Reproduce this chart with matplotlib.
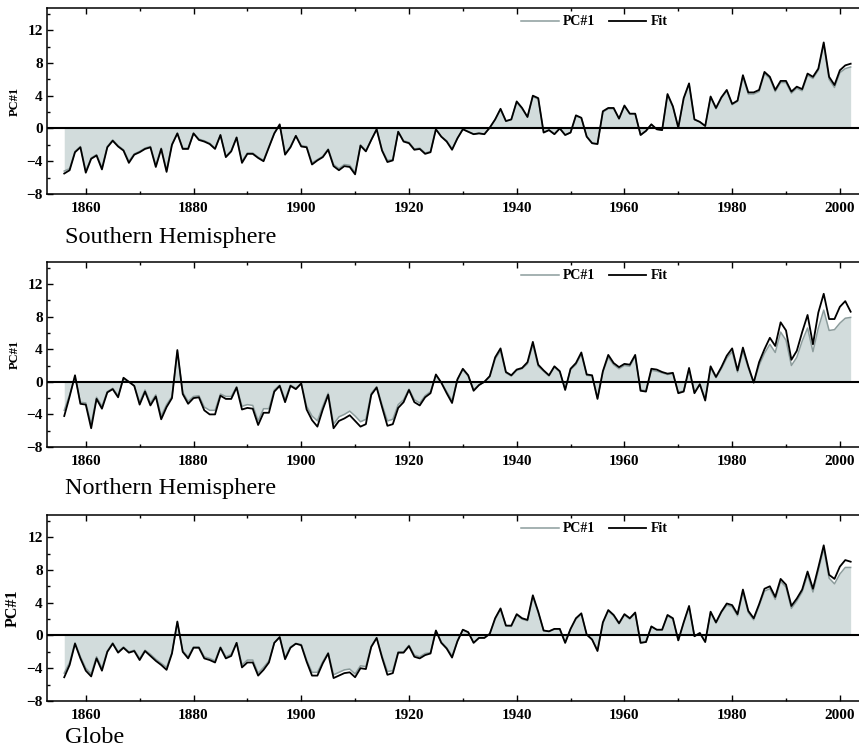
import numpy as np
import matplotlib
matplotlib.use('Agg')
import matplotlib.pyplot as plt
from matplotlib.ticker import MultipleLocator

plt.rcParams['font.family'] = ['Liberation Serif', 'DejaVu Serif']

years = np.arange(1856, 2003)

# ---------------- Southern Hemisphere ----------------
sh_fit = [
    -5.5, -5.1, -2.9, -2.3, -5.4, -3.7, -3.3, -5.0, -2.3, -1.5,   # 1856-1865
    -2.2, -2.7, -4.2, -3.2, -2.9, -2.5, -2.3, -4.7, -2.5, -5.3,   # 1866-1875
    -2.0, -0.6, -2.5, -2.5, -0.6, -1.4, -1.6, -1.9, -2.5, -0.8,   # 1876-1885
    -3.5, -2.8, -1.1, -4.2, -3.1, -3.1, -3.6, -4.0, -2.3, -0.6,   # 1886-1895
    0.5, -3.2, -2.3, -0.9, -2.2, -2.3, -4.4, -3.9, -3.5, -2.6,    # 1896-1905
    -4.6, -5.1, -4.6, -4.7, -5.6, -2.1, -2.8, -1.4, -0.1, -2.7,   # 1906-1915
    -4.1, -3.9, -0.4, -1.6, -1.8, -2.6, -2.5, -3.1, -2.9, -0.1,   # 1916-1925
    -1.0, -1.6, -2.6, -1.2, -0.1, -0.4, -0.7, -0.6, -0.7, 0.1,    # 1926-1935
    1.1, 2.4, 0.9, 1.1, 3.3, 2.5, 1.4, 4.0, 3.7, -0.5,            # 1936-1945
    -0.2, -0.7, 0.0, -0.8, -0.5, 1.6, 1.3, -1.0, -1.8, -1.9,      # 1946-1955
    2.1, 2.5, 2.5, 1.2, 2.8, 1.8, 1.8, -0.8, -0.3, 0.5,           # 1956-1965
    -0.1, -0.2, 4.2, 2.7, 0.1, 3.7, 5.5, 1.1, 0.8, 0.3,           # 1966-1975
    3.9, 2.5, 3.8, 4.7, 3.0, 3.4, 6.5, 4.4, 4.4, 4.7,             # 1976-1985
    6.9, 6.3, 4.7, 5.8, 5.8, 4.5, 5.1, 4.8, 6.7, 6.3,             # 1986-1995
    7.3, 10.5, 6.3, 5.3, 7.1, 7.7, 7.9,                            # 1996-2002
]
sh_pc = [
    -5.2, -4.9, -2.8, -2.2, -5.2, -3.6, -3.2, -4.8, -2.2, -1.4,
    -2.1, -2.6, -4.0, -3.1, -2.8, -2.4, -2.2, -4.5, -2.4, -5.1,
    -1.9, -0.6, -2.4, -2.4, -0.6, -1.3, -1.5, -1.8, -2.4, -0.8,
    -3.4, -2.7, -1.1, -4.0, -3.0, -3.0, -3.5, -3.9, -2.2, -0.6,
    0.4, -3.1, -2.2, -0.9, -2.1, -2.2, -4.2, -3.8, -3.4, -2.5,
    -4.4, -4.9, -4.4, -4.5, -5.4, -2.0, -2.7, -1.4, -0.1, -2.6,
    -3.9, -3.8, -0.4, -1.5, -1.7, -2.5, -2.4, -3.0, -2.8, -0.1,
    -1.0, -1.5, -2.5, -1.2, -0.1, -0.4, -0.7, -0.6, -0.7, 0.1,
    1.1, 2.3, 0.9, 1.1, 3.2, 2.4, 1.4, 3.9, 3.6, -0.5,
    -0.2, -0.7, 0.0, -0.8, -0.5, 1.5, 1.3, -1.0, -1.8, -1.9,
    2.0, 2.4, 2.4, 1.2, 2.7, 1.8, 1.8, -0.8, -0.3, 0.5,
    -0.1, -0.2, 4.1, 2.6, 0.1, 3.6, 5.4, 1.1, 0.8, 0.3,
    3.8, 2.4, 3.7, 4.6, 2.9, 3.3, 6.3, 4.2, 4.2, 4.5,
    6.7, 6.1, 4.5, 5.6, 5.6, 4.3, 4.9, 4.6, 6.5, 6.1,
    7.1, 10.3, 6.0, 5.0, 6.8, 7.3, 7.5,
]

# ---------------- Northern Hemisphere ----------------
nh_fit = [
    -4.2, -1.8, 0.8, -2.7, -2.8, -5.7, -2.1, -3.3, -1.3, -0.9,
    -1.9, 0.5, 0.0, -0.5, -2.8, -1.2, -2.9, -1.8, -4.6, -3.1,
    -2.0, 3.9, -1.5, -2.7, -2.0, -1.9, -3.5, -4.0, -4.0, -1.7,
    -2.1, -2.1, -0.7, -3.4, -3.2, -3.3, -5.3, -3.8, -3.8, -1.2,
    -0.5, -2.5, -0.5, -0.9, -0.2, -3.4, -4.7, -5.5, -3.4, -1.6,
    -5.7, -4.8, -4.5, -4.1, -4.8, -5.5, -5.2, -1.6, -0.7, -3.1,
    -5.4, -5.2, -3.2, -2.5, -1.0, -2.5, -2.9, -1.9, -1.4, 0.9,
    -0.1, -1.4, -2.6, 0.3, 1.6, 0.8, -1.1, -0.4, 0.0, 0.7,
    3.0, 4.1, 1.2, 0.8, 1.5, 1.7, 2.4, 4.9, 2.1, 1.4,
    0.8, 1.9, 1.3, -1.0, 1.6, 2.3, 3.6, 0.9, 0.8, -2.1,
    1.3, 3.3, 2.3, 1.8, 2.2, 2.1, 3.3, -1.1, -1.2, 1.6,
    1.5, 1.2, 1.0, 1.1, -1.4, -1.2, 1.7, -1.4, -0.3, -2.3,
    1.9, 0.6, 1.8, 3.2, 4.1, 1.4, 4.2, 1.9, -0.1, 2.4,
    4.0, 5.4, 4.4, 7.3, 6.3, 2.7, 3.8, 6.1, 8.2, 4.6,
    8.5, 10.8, 7.7, 7.7, 9.2, 9.9, 8.6,
]
nh_pc = [
    -3.5, -1.6, 0.6, -2.5, -2.6, -5.2, -1.9, -3.0, -1.2, -0.8,
    -1.7, 0.4, 0.0, -0.5, -2.5, -1.0, -2.6, -1.6, -4.2, -2.8,
    -1.8, 3.7, -1.3, -2.4, -1.8, -1.7, -3.1, -3.5, -3.5, -1.5,
    -1.8, -1.8, -0.6, -3.0, -2.8, -2.9, -4.8, -3.3, -3.3, -1.0,
    -0.4, -2.2, -0.4, -0.8, -0.2, -3.0, -4.2, -4.8, -3.0, -1.4,
    -5.2, -4.3, -4.0, -3.6, -4.2, -4.9, -4.6, -1.4, -0.6, -2.8,
    -4.8, -4.6, -2.8, -2.2, -0.9, -2.2, -2.6, -1.7, -1.2, 0.8,
    -0.1, -1.2, -2.3, 0.3, 1.5, 0.7, -1.0, -0.4, 0.0, 0.6,
    2.8, 3.8, 1.1, 0.7, 1.4, 1.6, 2.2, 4.6, 1.9, 1.3,
    0.7, 1.8, 1.2, -0.9, 1.5, 2.1, 3.4, 0.8, 0.7, -2.0,
    1.2, 3.0, 2.1, 1.6, 2.0, 1.9, 3.1, -1.0, -1.1, 1.4,
    1.3, 1.1, 0.9, 1.0, -1.3, -1.1, 1.5, -1.3, -0.3, -2.1,
    1.7, 0.5, 1.6, 2.9, 3.7, 1.2, 3.8, 1.7, -0.1, 2.0,
    3.5, 4.6, 3.6, 6.1, 5.1, 2.0, 3.0, 5.0, 6.6, 3.7,
    6.6, 8.8, 6.3, 6.4, 7.2, 7.8, 7.9,
]

# ---------------- Globe ----------------
gl_fit = [
    -5.1, -3.6, -1.0, -2.8, -4.3, -5.0, -2.8, -4.3, -2.0, -1.0,
    -2.1, -1.5, -2.1, -1.9, -3.0, -1.9, -2.5, -3.1, -3.6, -4.2,
    -2.2, 1.7, -2.0, -2.8, -1.5, -1.5, -2.8, -3.0, -3.3, -1.5,
    -2.8, -2.5, -0.9, -3.9, -3.3, -3.3, -4.9, -4.2, -3.3, -0.9,
    -0.2, -2.9, -1.5, -1.0, -1.2, -3.2, -4.9, -4.9, -3.4, -2.2,
    -5.2, -4.9, -4.6, -4.5, -5.1, -4.0, -4.1, -1.4, -0.3, -2.7,
    -4.8, -4.6, -2.1, -2.1, -1.3, -2.6, -2.8, -2.4, -2.2, 0.6,
    -0.9, -1.6, -2.7, -0.7, 0.7, 0.4, -0.9, -0.3, -0.3, 0.2,
    2.1, 3.3, 1.2, 1.2, 2.6, 2.1, 1.9, 4.9, 2.9, 0.6,
    0.5, 0.8, 0.8, -0.9, 0.8, 2.1, 2.7, 0.1, -0.5, -1.9,
    1.6, 3.1, 2.5, 1.5, 2.6, 2.1, 2.8, -0.9, -0.8, 1.1,
    0.7, 0.7, 2.5, 2.1, -0.6, 1.6, 3.6, -0.1, 0.3, -0.8,
    2.9, 1.6, 2.9, 3.9, 3.7, 2.6, 5.6, 3.0, 2.1, 3.8,
    5.7, 6.0, 4.7, 6.9, 6.2, 3.6, 4.5, 5.6, 7.8, 5.7,
    8.3, 11.0, 7.4, 6.9, 8.4, 9.2, 9.0,
]
gl_pc = [
    -4.6, -3.3, -0.9, -2.6, -4.0, -4.7, -2.6, -4.0, -1.9, -0.9,
    -2.0, -1.4, -2.0, -1.8, -2.8, -1.8, -2.3, -2.9, -3.4, -3.9,
    -2.1, 1.6, -1.9, -2.6, -1.4, -1.4, -2.6, -2.8, -3.1, -1.4,
    -2.6, -2.3, -0.9, -3.6, -3.0, -3.0, -4.6, -3.9, -3.1, -0.9,
    -0.2, -2.7, -1.4, -1.0, -1.1, -3.0, -4.5, -4.5, -3.2, -2.1,
    -4.8, -4.5, -4.2, -4.1, -4.7, -3.7, -3.8, -1.3, -0.3, -2.5,
    -4.4, -4.3, -2.0, -2.0, -1.2, -2.4, -2.6, -2.2, -2.1, 0.6,
    -0.8, -1.5, -2.5, -0.7, 0.7, 0.4, -0.9, -0.3, -0.3, 0.2,
    2.0, 3.2, 1.2, 1.1, 2.5, 2.0, 1.8, 4.7, 2.8, 0.6,
    0.5, 0.8, 0.8, -0.9, 0.8, 2.0, 2.6, 0.1, -0.5, -1.8,
    1.5, 3.0, 2.4, 1.4, 2.5, 2.0, 2.7, -0.9, -0.8, 1.1,
    0.7, 0.7, 2.4, 2.0, -0.6, 1.5, 3.5, -0.1, 0.3, -0.8,
    2.8, 1.5, 2.8, 3.7, 3.5, 2.4, 5.3, 2.8, 1.9, 3.6,
    5.4, 5.7, 4.4, 6.6, 5.9, 3.3, 4.2, 5.3, 7.4, 5.3,
    7.9, 10.6, 7.0, 6.3, 7.5, 8.3, 8.3,
]

panels = [
    ("Southern Hemisphere", sh_pc, sh_fit, 9),
    ("Northern Hemisphere", nh_pc, nh_fit, 9),
    ("Globe", gl_pc, gl_fit, 11.5),
]

W, H = 859, 749
fig = plt.figure(figsize=(W / 100, H / 100), dpi=100)

tops = [8, 262, 515]      # pixel rows of top spines
bottoms = [194, 447, 701]
baselines = [243, 494, 743]

for (title, pc, fit, ylsize), top, bot, base in zip(panels, tops, bottoms, baselines):
    # axes runs past the right edge of the picture, so no right spine is seen
    ax = fig.add_axes([47 / W, 1 - bot / H, 812 / W, (bot - top) / H])
    ax.fill_between(years, pc, 0, color='#d2dcdc', linewidth=0)
    ax.plot(years, pc, color='#8c9c9c', lw=1.1, label='PC#1')
    ax.axhline(0, color='black', lw=1.5)
    ax.plot(years, fit, color='black', lw=1.3, label='Fit')

    ax.set_xlim(1852.8, 2003.55)
    ax.set_ylim(-8, 14.7)
    ax.xaxis.set_major_locator(MultipleLocator(20))
    ax.xaxis.set_minor_locator(MultipleLocator(10))
    ax.yaxis.set_major_locator(MultipleLocator(4))
    ax.yaxis.set_minor_locator(MultipleLocator(2))
    ax.tick_params(which='both', direction='in', top=True, right=False, width=1.0)
    ax.tick_params(which='major', length=4.5)
    ax.tick_params(which='minor', length=2.5)
    ax.tick_params(axis='x', pad=6)
    ax.tick_params(axis='y', pad=3)
    for lab in ax.get_xticklabels() + ax.get_yticklabels():
        lab.set_fontweight('bold')
        lab.set_fontsize(11)
    for sp in ax.spines.values():
        sp.set_linewidth(1.1)
    ax.spines['right'].set_visible(False)

    ax.set_ylabel('PC#1', fontsize=ylsize, fontweight='bold', labelpad=4)

    ax.legend(loc='center', bbox_to_anchor=(0.674, 0.925), ncol=2,
              frameon=False, handlelength=2.7, handletextpad=0.3,
              columnspacing=1.0, prop={'weight': 'bold', 'size': 10})

    fig.text(65 / W, 1 - base / H, title, fontsize=17.5, va='baseline', ha='left')

fig.savefig('out.png', dpi=100)
